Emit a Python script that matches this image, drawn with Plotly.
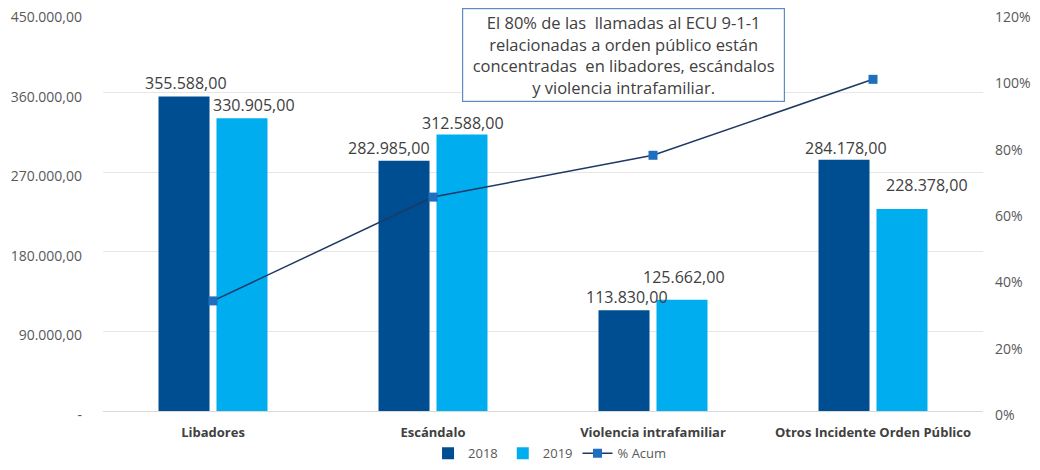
import plotly.graph_objects as go
from plotly.subplots import make_subplots

categories = ["Libadores", "Escándalo", "Violencia intrafamiliar", "Otros Incidente Orden Público"]
values_2018 = [355588, 282985, 113830, 284178]
values_2019 = [330905, 312588, 125662, 228378]
pct_acum = [0.332, 0.645, 0.771, 1.0]

left_tickvals = [0, 90000, 180000, 270000, 360000, 450000]
left_ticktext = ["-", "90.000,00", "180.000,00", "270.000,00", "360.000,00", "450.000,00"]
right_tickvals = [0, 0.2, 0.4, 0.6, 0.8, 1.0, 1.2]

note_text = ("El 80% de las  llamadas al ECU 9-1-1<br>relacionadas a orden público están<br>"
             "concentradas  en libadores, escándalos<br>y violencia intrafamiliar.")

# label placement styles (pixel offsets from bar top centre)
label_dx_2018 = [2, -15, 3, 2]
label_dy_2018 = [14, 13, 13, 12]
label_dx_2019 = [12, 1, 2, 25]
label_dy_2019 = [13, 12, 23, 24]
BAR_HALF_SLOT = 29

FONT = "Open Sans, Liberation Sans, Arial, sans-serif"
C2018 = "#004E92"
C2019 = "#00AEEF"


def es_number(v):
    return f"{v:,.2f}".replace(",", "X").replace(".", ",").replace("X", ".")


fig = make_subplots(specs=[[{"secondary_y": True}]])

fig.add_trace(go.Bar(x=categories, y=values_2018, name="2018", marker_color=C2018,
                     marker_line_width=0), secondary_y=False)
fig.add_trace(go.Bar(x=categories, y=values_2019, name="2019", marker_color=C2019,
                     marker_line_width=0), secondary_y=False)
fig.add_trace(go.Scatter(
    x=categories, y=pct_acum, name="% Acum", mode="lines+markers",
    line=dict(color="#1F3864", width=1.5),
    marker=dict(symbol="square", size=9, color="#1F6EC0"),
), secondary_y=True)

# data labels
for cat, v, dx, dy in zip(categories, values_2018, label_dx_2018, label_dy_2018):
    fig.add_annotation(x=cat, y=v, xref="x", yref="y", text=es_number(v),
                       showarrow=False, xshift=-BAR_HALF_SLOT + dx, yshift=dy, yanchor="middle",
                       font=dict(size=16, color="#404040", family=FONT))
for cat, v, dx, dy in zip(categories, values_2019, label_dx_2019, label_dy_2019):
    fig.add_annotation(x=cat, y=v, xref="x", yref="y", text=es_number(v),
                       showarrow=False, xshift=BAR_HALF_SLOT + dx, yshift=dy, yanchor="middle",
                       font=dict(size=16, color="#404040", family=FONT))

fig.update_layout(
    width=1024, height=454,
    margin=dict(l=95, r=49, t=5, b=51, autoexpand=False),
    paper_bgcolor="white", plot_bgcolor="white",
    separators=",.",
    barmode="group", bargap=0.473, bargroupgap=0.12,
    font=dict(family=FONT, color="#595959", size=13),
    legend=dict(orientation="h", x=0.508, xanchor="center", y=-0.106, yanchor="middle",
                font=dict(size=13, color="#595959"), traceorder="normal", itemwidth=30),
    showlegend=True,
)

fig.update_xaxes(
    domain=[0, 1],
    showgrid=False, showline=True, linecolor="#D9D9D9", linewidth=1,
    tickfont=dict(size=13, color="#404040", family=FONT),
    ticks="", ticklabelstandoff=9, automargin=False,
    tickvals=categories, ticktext=[f"<b>{c}</b>" for c in categories],
)

fig.update_yaxes(
    range=[0, 450000], tickvals=left_tickvals, ticktext=left_ticktext,
    showgrid=True, gridcolor="#E6E6E6", gridwidth=1, zeroline=False,
    tickfont=dict(size=14, color="#595959"), ticks="", ticklabelstandoff=20,
    ticklabeloverflow="allow", ticklabelshift=4,
    automargin=False, secondary_y=False,
)
fig.update_yaxes(
    range=[0, 1.2], tickvals=right_tickvals, tickformat=".0%",
    showgrid=False, zeroline=False,
    tickfont=dict(size=14, color="#595959"), ticks="", ticklabelstandoff=11,
    ticklabeloverflow="allow", ticklabelshift=4,
    automargin=False, secondary_y=True,
)

fig.add_annotation(
    xref="paper", yref="paper", x=0.408, y=1.0126, xanchor="left", yanchor="top",
    text=note_text, showarrow=False, align="center",
    font=dict(size=16.5, color="#404040", family=FONT),
    bordercolor="#5B8BC9", borderwidth=1.2, borderpad=2, bgcolor="white",
    width=317,
)

fig.write_html("out.html")
